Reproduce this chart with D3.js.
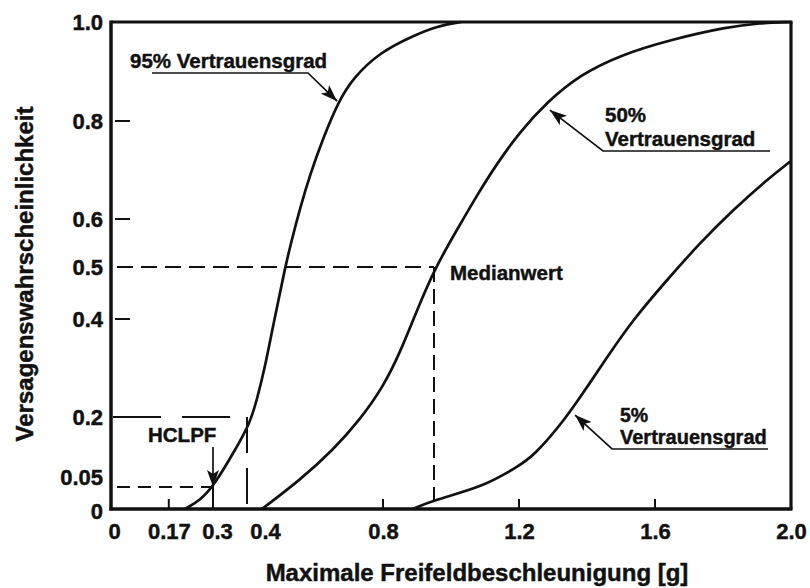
<!DOCTYPE html>
<html><head><meta charset="utf-8">
<script src="https://cdn.jsdelivr.net/npm/d3@7/dist/d3.min.js"></script>
<style>
html,body{margin:0;padding:0;background:#fff;}
svg{display:block;}
text{font-family:"Liberation Sans",Arial,Helvetica,sans-serif;font-weight:bold;fill:#111;stroke:#111;stroke-width:0.45px;}
</style></head>
<body>
<svg id="c" width="810" height="588"></svg>
<script>
// ---- data ----
const xTickLabels = [0, 0.17, 0.3, 0.4, 0.8, 1.2, 1.6, 2.0];
const xTickMarks = [0.17, 0.8, 1.2, 1.6];
const yTickLabels = [0, 0.05, 0.2, 0.4, 0.5, 0.6, 0.8, 1.0];
const yTickMarks = [0.4, 0.6, 0.8];

const curve95x = [0.218,0.262,0.300,0.365,0.409,0.429,0.453,0.476,0.497,0.512,0.530,0.556,0.585,0.624,0.668,0.712,0.791,0.888,0.960,1.03];
const curve95y = [0,0.020,0.050,0.129,0.187,0.235,0.302,0.384,0.450,0.498,0.552,0.622,0.690,0.765,0.838,0.887,0.939,0.972,0.992,1.0];
const curve50x = [0.444,0.556,0.653,0.732,0.800,0.850,0.900,0.953,1.018,1.076,1.135,1.203,1.282,1.379,1.497,1.644,1.812,1.909,2.0];
const curve50y = [0,0.065,0.129,0.194,0.261,0.331,0.417,0.498,0.578,0.648,0.713,0.778,0.838,0.893,0.933,0.964,0.990,0.998,1.0];
const curve05x = [0.888,0.947,1.094,1.194,1.241,1.341,1.400,1.468,1.535,1.635,1.732,1.829,1.929,1.997];
const curve05y = [0,0.020,0.050,0.093,0.114,0.200,0.261,0.331,0.398,0.475,0.550,0.618,0.680,0.717];

const medianX = 0.95, medianP = 0.5;
const hclpfX = 0.30, hclpfP = 0.05;
const p20X = 0.40, p20P = 0.2;

const labels = {
  c95: "95% Vertrauensgrad",
  c50a: "50%", c50b: "Vertrauensgrad",
  c05a: "5%", c05b: "Vertrauensgrad",
  median: "Medianwert",
  hclpf: "HCLPF",
  xTitle: "Maximale Freifeldbeschleunigung [g]",
  yTitle: "Versagenswahrscheinlichkeit"
};
const arrowTips = { c95:[0.665,0.84], c50:[1.291,0.822], c05:[1.365,0.204] };

// ---- drawing ----
const svg = d3.select("#c");
const x = d3.scaleLinear().domain([0,2]).range([111,791]);
const y = d3.scaleLinear().domain([0,0.05,0.2,0.4,0.5,0.6,0.8,1.0])
  .range([509,487,417,319,267,219,121,22]);

const defs = svg.append("defs");
defs.append("marker").attr("id","ah").attr("viewBox","0 0 17 12")
  .attr("refX",17).attr("refY",6).attr("markerWidth",17).attr("markerHeight",12)
  .attr("markerUnits","userSpaceOnUse").attr("orient","auto")
  .append("path").attr("d","M0,0 L17,6 L0,12 L4,6 Z").attr("fill","#111");

// dashed guide lines
const g = svg.append("g").attr("stroke","#111").attr("fill","none");
g.append("line").attr("x1",x(0)+2).attr("x2",x(hclpfX)).attr("y1",y(hclpfP)).attr("y2",y(hclpfP))
  .attr("stroke-width",2).attr("stroke-dasharray","13,8").attr("stroke-dashoffset",-4);
g.append("line").attr("x1",x(hclpfX)).attr("x2",x(hclpfX)).attr("y1",y(hclpfP)).attr("y2",y(0))
  .attr("stroke-width",2);
g.append("line").attr("x1",x(0)+2).attr("x2",x(p20X)+3).attr("y1",y(p20P)).attr("y2",y(p20P))
  .attr("stroke-width",2).attr("stroke-dasharray","48,21");
g.append("line").attr("x1",x(p20X)).attr("x2",x(p20X)).attr("y1",y(p20P)).attr("y2",y(0))
  .attr("stroke-width",2).attr("stroke-dasharray","36,15");
g.append("line").attr("x1",x(0)+2).attr("x2",x(medianX)).attr("y1",y(medianP)).attr("y2",y(medianP))
  .attr("stroke-width",2).attr("stroke-dasharray","16,8").attr("stroke-dashoffset",-4);
g.append("line").attr("x1",x(medianX)).attr("x2",x(medianX)).attr("y1",y(medianP)).attr("y2",y(0))
  .attr("stroke-width",2).attr("stroke-dasharray","15,7");

// curves
const line = d3.line().x(d=>x(d[0])).y(d=>y(d[1])).curve(d3.curveBasis);
[[curve95x,curve95y],[curve50x,curve50y],[curve05x,curve05y]].forEach(([xs,ys])=>{
  svg.append("path").datum(xs.map((v,i)=>[v,ys[i]])).attr("d",line)
    .attr("fill","none").attr("stroke","#111").attr("stroke-width",2.7);
});

// frame & axes
const fr = svg.append("g").attr("stroke","#111").attr("fill","none");
fr.append("line").attr("x1",x(0)).attr("x2",x(0)).attr("y1",y(1)-1.5).attr("y2",y(0)+1.5).attr("stroke-width",3.5);
fr.append("line").attr("x1",x(0)-1.5).attr("x2",x(2)+1.5).attr("y1",y(0)).attr("y2",y(0)).attr("stroke-width",3.5);
fr.append("line").attr("x1",x(0)).attr("x2",x(2)+1.5).attr("y1",y(1)).attr("y2",y(1)).attr("stroke-width",3.2);
fr.append("line").attr("x1",x(2)).attr("x2",x(2)).attr("y1",y(1)).attr("y2",y(0)).attr("stroke-width",3.2);

// tick marks
xTickMarks.forEach(v=>{
  fr.append("line").attr("x1",x(v)).attr("x2",x(v)).attr("y1",y(0)).attr("y2",y(0)-10).attr("stroke-width",2);
});
yTickMarks.forEach(v=>{
  fr.append("line").attr("x1",x(0)+4).attr("x2",x(0)+19).attr("y1",y(v)).attr("y2",y(v)).attr("stroke-width",2);
});

// axis labels via d3 axes
const textStyle = sel => sel.style("font-family",'"Liberation Sans",Arial,sans-serif')
  .style("font-weight","bold").attr("fill","#111").attr("stroke","#111").attr("stroke-width",0.45);
const fmtX = d=> d===0 ? "0" : (d===2 ? "2.0" : String(d));
const xAxis = d3.axisBottom(x).tickValues(xTickLabels).tickSize(0).tickFormat(fmtX);
const xa = svg.append("g").attr("transform",`translate(0,${y(0)})`).call(xAxis);
xa.select(".domain").remove();
xa.selectAll("text").attr("font-size",22).attr("dy",null).attr("y",30)
  .attr("dx",d=> d===0.4 ? 18 : (d===0.3 ? 4 : (d===0 ? 3 : 0))).call(textStyle);

const fmtY = d=> d===0 ? "0" : (d===1 ? "1.0" : String(d));
const yAxis = d3.axisLeft(y).tickValues(yTickLabels).tickSize(0).tickFormat(fmtY);
const ya = svg.append("g").attr("transform",`translate(${x(0)},0)`).call(yAxis);
ya.select(".domain").remove();
ya.selectAll("text").attr("font-size",22).attr("x",-8)
  .attr("dy",d=> d===0.05 ? "-0.12em" : (d===0 ? "0.42em" : "0.36em")).call(textStyle);

// titles
svg.append("text").attr("x",477).attr("y",581).attr("text-anchor","middle").attr("font-size",24).text(labels.xTitle);
svg.append("text").attr("transform","translate(33,274) rotate(-90)").attr("text-anchor","middle").attr("font-size",24).text(labels.yTitle);

// annotations
const an = svg.append("g");
an.append("text").attr("x",130).attr("y",68).attr("font-size",20.5).text(labels.c95);
an.append("text").attr("x",605).attr("y",122).attr("font-size",20.5).text(labels.c50a);
an.append("text").attr("x",605).attr("y",146).attr("font-size",20.5).text(labels.c50b);
an.append("text").attr("x",620).attr("y",422).attr("font-size",19.5).text(labels.c05a);
an.append("text").attr("x",620).attr("y",444).attr("font-size",20).text(labels.c05b);
an.append("text").attr("x",450).attr("y",280).attr("font-size",20.5).text(labels.median);
an.append("text").attr("x",148).attr("y",442).attr("font-size",20.5).text(labels.hclpf);

const ld = (pts)=> "M"+pts.map(p=>p.join(",")).join("L");
const tip = k=> [x(arrowTips[k][0]), y(arrowTips[k][1])];
const arrowLine = d => an.append("path").attr("d",d).attr("fill","none").attr("stroke","#111")
  .attr("stroke-width",1.7).attr("marker-end","url(#ah)");
arrowLine(ld([[152,73],[308,73],tip("c95")]));
arrowLine(ld([[770,151],[603,151],tip("c50")]));
arrowLine(ld([[768,449],[612,449],tip("c05")]));
arrowLine(ld([[x(hclpfX),447],[x(hclpfX),y(hclpfP)]]));
</script>
</body></html>
